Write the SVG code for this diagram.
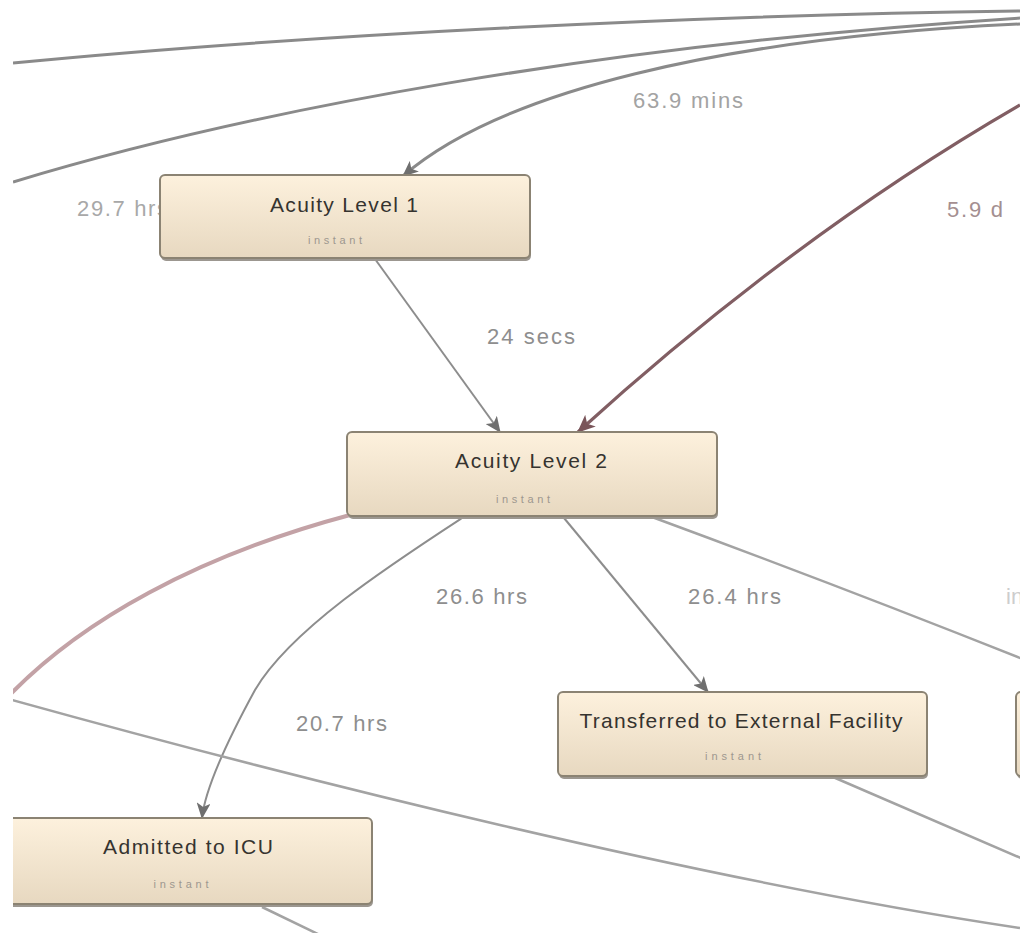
<svg xmlns="http://www.w3.org/2000/svg" width="1020" height="933" viewBox="0 0 1020 933">
  <defs>
    <linearGradient id="nodeFill" x1="0" y1="0" x2="0" y2="1">
      <stop offset="0" stop-color="#fdf1dd"/>
      <stop offset="1" stop-color="#e7d8c0"/>
    </linearGradient>
    <marker id="arrowGray" viewBox="0 0 16 14" refX="15" refY="7" markerWidth="16" markerHeight="14" markerUnits="userSpaceOnUse" orient="auto">
      <path d="M0,0 L16,7 L0,14 L4,7 Z" fill="#6f6f6f"/>
    </marker>
    <marker id="arrowRed" viewBox="0 0 16 14" refX="15" refY="7" markerWidth="18" markerHeight="16" markerUnits="userSpaceOnUse" orient="auto">
      <path d="M0,0 L16,7 L0,14 L4,7 Z" fill="#7a555a"/>
    </marker>
    <clipPath id="frame">
      <rect x="13" y="0" width="1007" height="933"/>
    </clipPath>
  </defs>
  <style>
    .edge { fill: none; stroke: #8d8d8d; stroke-width: 2; }
    .edge.heavy { stroke: #8a8a8a; stroke-width: 3; }
    .edge.light { stroke: #a3a3a3; stroke-width: 2.5; }
    .edge.red { stroke: #815e63; stroke-width: 3.2; }
    .edge.pink { stroke: #c3a2a6; stroke-width: 4; }
    .elabel { font-family: "Liberation Sans", Arial, sans-serif; font-size: 22px; fill: #8e8e8e; }
    .shadow { fill: #9c9790; }
    .box { fill: url(#nodeFill); stroke: #8b8373; stroke-width: 2; }
    .title { font-family: "Liberation Sans", Arial, sans-serif; font-size: 21px; fill: #35332f; text-anchor: middle; }
    .sub { font-family: "Liberation Sans", Arial, sans-serif; font-size: 11px; fill: #9d978f; text-anchor: middle; }
  </style>
  <rect width="1020" height="933" fill="#ffffff"/>
  <g clip-path="url(#frame)">
    <g id="connectors">
      <path class="edge heavy" d="M13,63 C300,35 700,15 1020,11"/>
      <path class="edge heavy" d="M13,182 C250,110 600,45 1020,18"/>
      <path class="edge heavy" d="M1020,24 C720,38 500,92 403,176" marker-end="url(#arrowGray)"/>
      <path class="edge red" d="M1020,105 Q795,235 578,432" marker-end="url(#arrowRed)"/>
      <path class="edge" d="M375,259 L500,432" marker-end="url(#arrowGray)"/>
      <path class="edge pink" d="M350,515 C200,555 80,620 5,700"/>
      <path class="edge" d="M462,518 C390,565 290,630 255,690 C225,745 205,790 202,818" marker-end="url(#arrowGray)"/>
      <path class="edge light" d="M5,698 C300,780 700,880 1020,928"/>
      <path class="edge" d="M564,518 L708,692" marker-end="url(#arrowGray)"/>
      <path class="edge light" d="M652,517 Q850,590 1030,662"/>
      <path class="edge light" d="M833,777 L1030,862"/>
      <path class="edge light" d="M262,907 L322,936"/>
      <text class="elabel" x="633" y="108" textLength="110" lengthAdjust="spacing" style="fill:#a3a3a3">63.9 mins</text>
      <text class="elabel" x="77" y="216" textLength="91" lengthAdjust="spacing" style="fill:#a8a8a8">29.7 hrs</text>
      <text class="elabel" x="947" y="217" textLength="56" lengthAdjust="spacing" style="fill:#a48f91">5.9 d</text>
      <text class="elabel" x="487" y="344" textLength="88" lengthAdjust="spacing">24 secs</text>
      <text class="elabel" x="436" y="604" textLength="91" lengthAdjust="spacing">26.6 hrs</text>
      <text class="elabel" x="688" y="604" textLength="93" lengthAdjust="spacing">26.4 hrs</text>
      <text class="elabel" x="296" y="731" textLength="91" lengthAdjust="spacing">20.7 hrs</text>
      <text class="elabel" x="1006" y="604" style="fill:#cdcdcd">instant</text>
    </g>

    <g id="node-acuity-1">
      <rect class="shadow" x="161" y="178" width="370" height="83" rx="5"/>
      <rect class="box" x="160" y="175" width="370" height="83" rx="5"/>
      <text class="title" x="344" y="212" textLength="148" lengthAdjust="spacing">Acuity Level 1</text>
      <text class="sub" x="335" y="244" textLength="54" lengthAdjust="spacing">instant</text>
    </g>

    <g id="node-acuity-2">
      <rect class="shadow" x="348" y="435" width="370" height="84" rx="5"/>
      <rect class="box" x="347" y="432" width="370" height="84" rx="5"/>
      <text class="title" x="531" y="468" textLength="152" lengthAdjust="spacing">Acuity Level 2</text>
      <text class="sub" x="523" y="503" textLength="54" lengthAdjust="spacing">instant</text>
    </g>

    <g id="node-transferred">
      <rect class="shadow" x="559" y="695" width="369" height="84" rx="5"/>
      <rect class="box" x="558" y="692" width="369" height="84" rx="5"/>
      <text class="title" x="741" y="728" textLength="323" lengthAdjust="spacing">Transferred to External Facility</text>
      <text class="sub" x="733" y="760" textLength="56" lengthAdjust="spacing">instant</text>
    </g>

    <g id="node-icu">
      <rect class="shadow" x="3" y="821" width="370" height="86" rx="5"/>
      <rect class="box" x="2" y="818" width="370" height="86" rx="5"/>
      <text class="title" x="188" y="854" textLength="170" lengthAdjust="spacing">Admitted to ICU</text>
      <text class="sub" x="181" y="888" textLength="55" lengthAdjust="spacing">instant</text>
    </g>

    <g id="node-right">
      <rect class="shadow" x="1017" y="695" width="370" height="84" rx="5"/>
      <rect class="box" x="1016" y="692" width="370" height="84" rx="5"/>
    </g>
  </g>
</svg>
